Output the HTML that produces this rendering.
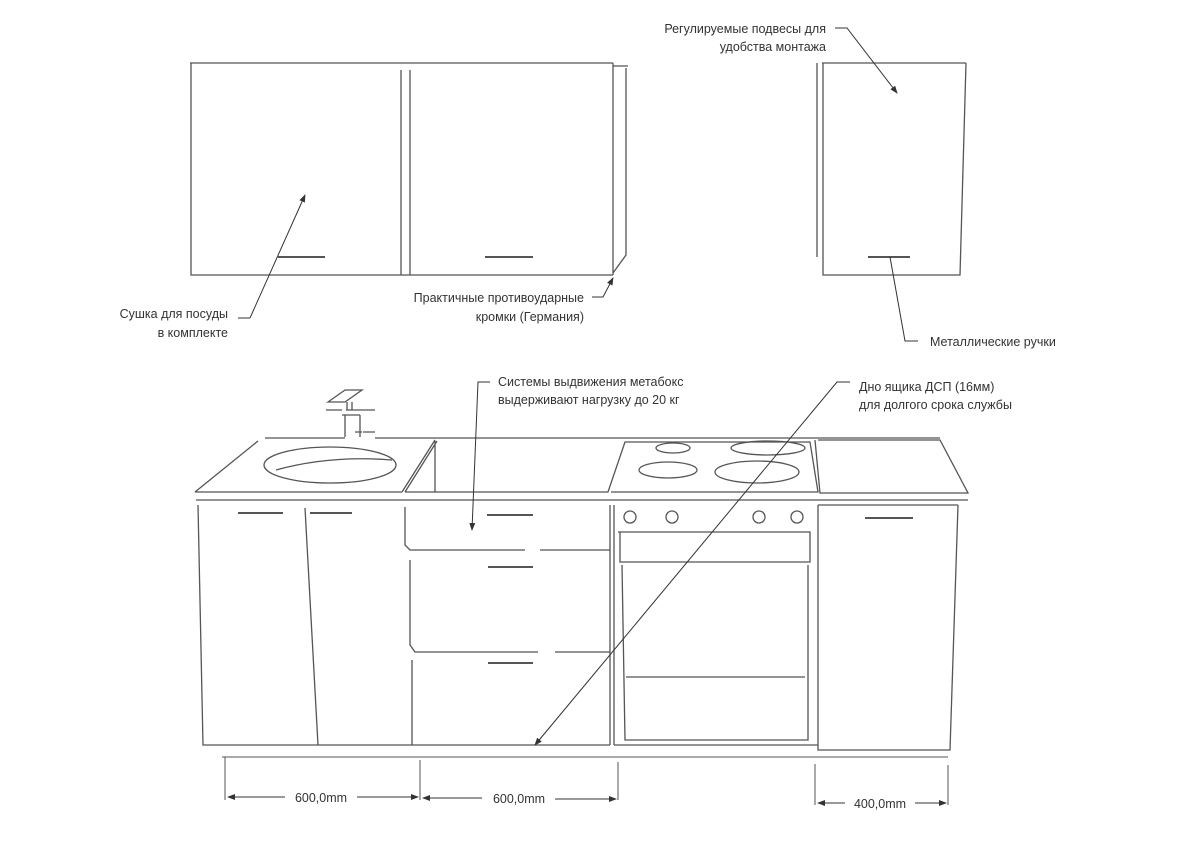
<!DOCTYPE html>
<html><head><meta charset="utf-8"><style>
html,body{margin:0;padding:0;background:#fff;}
svg{display:block;}
text{font-family:"Liberation Sans",sans-serif;font-size:12.5px;fill:#333;}
</style></head><body>
<svg width="1200" height="844" viewBox="0 0 1200 844" xmlns="http://www.w3.org/2000/svg">
<defs>
<marker id="a" markerWidth="8" markerHeight="6" refX="7" refY="3" orient="auto"><path d="M0,0 L8,3 L0,6 z" fill="#333"/></marker>
</defs>
<g stroke="#555" stroke-width="1.3" fill="none">
<!-- upper cabinets -->
<path d="M190,63 H613 M191,63 V275 H613 M401,70 V275 M410,70 V275 M613,63 V275 M613,66 H628 M626,68 V255 L613,273"/>
<path d="M278,257 H325 M485,257 H533" stroke-width="2"/>
<!-- right upper cabinet -->
<path d="M822,63 H966 M823,63 V275 H960 L966,63 M817,63 V257"/>
<path d="M868,257 H910" stroke-width="2"/>
<!-- countertop -->
<path d="M265,438 H345 M375,438 H940 M195,492 H402 M402,492 L435,440 M405,492 L437,441 M435,441 V492 M195,492 L258,441 M405,492 H608 L625,442 H810 L818,492 H611 M818,440 H940 L968,493 H820 L815,440 M196,500 H968"/>
<ellipse cx="330" cy="465" rx="66" ry="18"/>
<path d="M276,470 Q330,455 392,460"/>
<!-- faucet -->
<path d="M328,402 L345,390 H362 L345,402 Z M326,410 H342 M346,410 H375 M347,402 V410 M352,402 V410 M342,415 H360 M345,415 V437 M360,415 V437 M363,432 H375 M355,432 H362"/>
<!-- burners -->
<ellipse cx="673" cy="448" rx="17" ry="5"/>
<ellipse cx="668" cy="470" rx="29" ry="8"/>
<ellipse cx="768" cy="448" rx="37" ry="7"/>
<ellipse cx="757" cy="472" rx="42" ry="11"/>
<!-- lower cabinets -->
<path d="M198,505 L203,745 H610 M198,505 L203,745 M305,508 L318,745 M405,507 V545 L410,550 H525 M540,550 H610 M410,560 V645 L415,652 H538 M555,652 H610 M412,660 V745 M610,505 V745"/>
<path d="M238,513 H283 M310,513 H352 M487,515 H533 M488,567 H533 M488,663 H533" stroke-width="2"/>
<!-- oven -->
<path d="M614,505 V745 M614,745 H818 M618,532 H810 V562 H620 V532 M622,565 L625,740 H808 V565 M626,677 H805"/>
<circle cx="630" cy="517" r="6"/><circle cx="672" cy="517" r="6"/><circle cx="759" cy="517" r="6"/><circle cx="797" cy="517" r="6"/>
<!-- right base -->
<path d="M818,505 V750 H950 L958,505 M818,505 H958"/>
<path d="M865,518 H913" stroke-width="2"/>
<!-- dimensions -->
<path d="M222,757 H948 M225,757 V800 M420,760 V800 M618,762 V800 M815,764 V805 M948,765 V805" stroke-width="1"/>
</g>
<g stroke="#333" stroke-width="1" fill="none">
<path d="M285,797 H228" marker-end="url(#a)"/>
<path d="M357,797 H418" marker-end="url(#a)"/>
<path d="M482,798 H423" marker-end="url(#a)"/>
<path d="M555,799 H616" marker-end="url(#a)"/>
<path d="M845,803 H818" marker-end="url(#a)"/>
<path d="M915,803 H946" marker-end="url(#a)"/>
<!-- leaders -->
<path d="M250,318 L305,195" marker-end="url(#a)"/>
<path d="M250,318 H238"/>
<path d="M592,297 H603 L613,278" marker-end="url(#a)"/>
<path d="M835,28 H847 L897,93" marker-end="url(#a)"/>
<path d="M918,341 H905 L890,257"/>
<path d="M490,382 H478 L472,530" marker-end="url(#a)"/>
<path d="M850,382 H837 L535,745" marker-end="url(#a)"/>
</g>
<g>
<text x="228" y="318" text-anchor="end">Сушка для посуды</text>
<text x="228" y="337" text-anchor="end">в комплекте</text>
<text x="584" y="302" text-anchor="end">Практичные противоударные</text>
<text x="584" y="321" text-anchor="end">кромки (Германия)</text>
<text x="826" y="33" text-anchor="end">Регулируемые подвесы для</text>
<text x="826" y="51" text-anchor="end">удобства монтажа</text>
<text x="930" y="346">Металлические ручки</text>
<text x="498" y="386">Системы выдвижения метабокс</text>
<text x="498" y="404">выдерживают нагрузку до 20 кг</text>
<text x="859" y="391">Дно ящика ДСП (16мм)</text>
<text x="859" y="409">для долгого срока службы</text>
<text x="321" y="802" text-anchor="middle">600,0mm</text>
<text x="519" y="803" text-anchor="middle">600,0mm</text>
<text x="880" y="808" text-anchor="middle">400,0mm</text>
</g>
</svg>
</body></html>
